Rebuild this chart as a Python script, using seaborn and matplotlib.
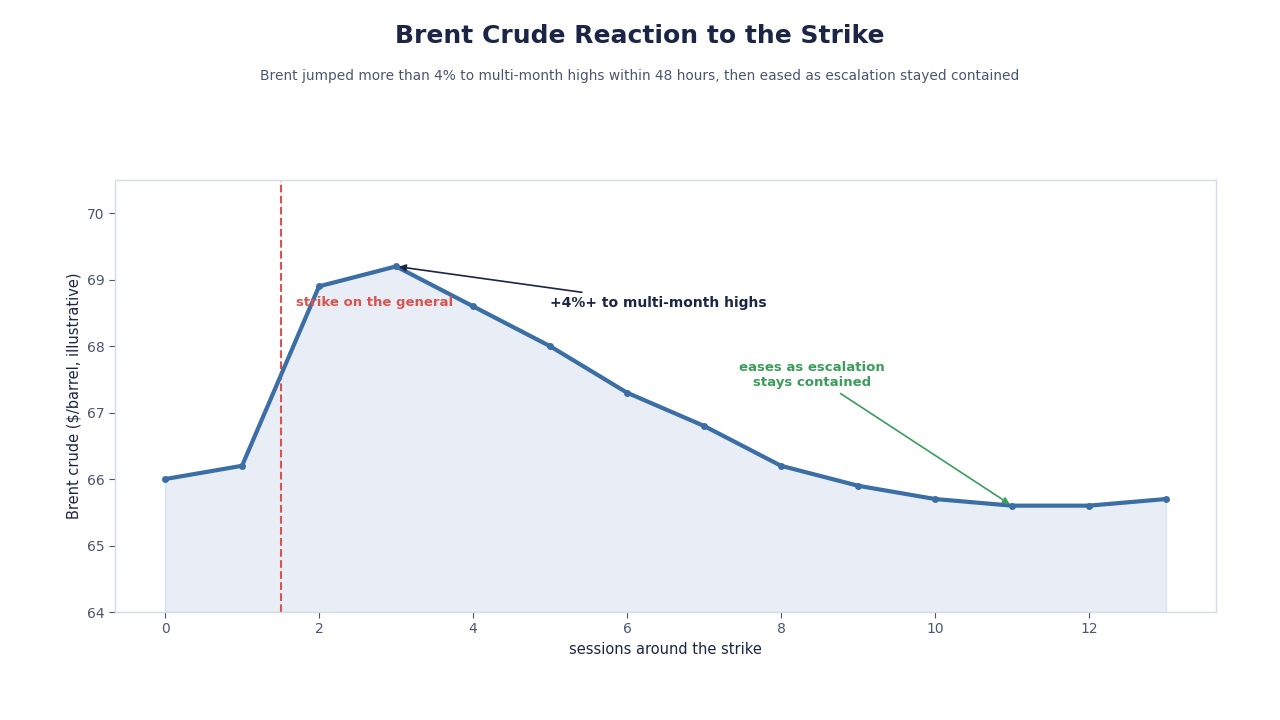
import numpy as np
import pandas as pd
import matplotlib
matplotlib.use("Agg")
import matplotlib.pyplot as plt
import seaborn as sns

# data
sessions = list(range(14))
brent = [66.0, 66.2, 68.9, 69.2, 68.6, 68.0, 67.3, 66.8, 66.2, 65.9, 65.7, 65.6, 65.6, 65.7]
strike_x = 1.5
peak_idx = 3
trough_idx = 11

df = pd.DataFrame({"session": sessions, "brent": brent})

sns.set_theme(style="white")
plt.rcParams["font.family"] = ["DejaVu Sans"]

navy = "#1b2545"
line_c = "#3a6ea5"
red = "#d9534f"
green = "#3a9e5a"
tick_c = "#4a5570"
spine_c = "#d5dbe8"

fig = plt.figure(figsize=(12.8, 7.2), dpi=100)
ax = fig.add_axes([115 / 1280, 1 - 612 / 720, (1216 - 115) / 1280, (612 - 180) / 720])

ax.fill_between(df["session"], df["brent"], 64, color="#e9eef6", edgecolor="#dae2ef", linewidth=1, zorder=1)
sns.lineplot(data=df, x="session", y="brent", ax=ax, color=line_c, linewidth=3,
             marker="o", markersize=5, markeredgewidth=0, zorder=3)
ax.axvline(strike_x, color=red, linestyle="--", linewidth=1.5, zorder=2)

ax.set_ylim(64, 70.5)
ax.set_xticks([0, 2, 4, 6, 8, 10, 12])
ax.set_yticks([64, 65, 66, 67, 68, 69, 70])

ax.text(1.7, 68.65, "strike on the general", color=red, fontsize=9.5, fontweight="bold",
        ha="left", va="center", zorder=4)
ax.annotate("+4%+ to multi-month highs", xy=(sessions[peak_idx], brent[peak_idx]),
            xytext=(5.0, 68.65), color=navy, fontsize=10, fontweight="bold",
            ha="left", va="center",
            arrowprops=dict(arrowstyle="-|>", color=navy, lw=1.2), zorder=4)
ax.annotate("eases as escalation\nstays contained", xy=(sessions[trough_idx], brent[trough_idx]),
            xytext=(8.4, 67.57), color=green, fontsize=9.5, fontweight="bold",
            ha="center", va="center",
            arrowprops=dict(arrowstyle="-|>", color=green, lw=1.2), zorder=4)

ax.set_xlabel("sessions around the strike", fontsize=10.5, color=navy)
ax.set_ylabel("Brent crude ($/barrel, illustrative)", fontsize=10.5, color=navy)
ax.tick_params(axis="both", colors=tick_c, labelsize=10, length=4, width=0.8, bottom=True, left=True)
for s in ax.spines.values():
    s.set_color(spine_c)
    s.set_linewidth(1)

fig.text(0.5, 1 - 36 / 720, "Brent Crude Reaction to the Strike", ha="center", va="center",
         fontsize=18, fontweight="bold", color=navy)
fig.text(0.5, 1 - 76 / 720, "Brent jumped more than 4% to multi-month highs within 48 hours, then eased as escalation stayed contained",
         ha="center", va="center", fontsize=9.9, color=tick_c)

fig.savefig("out.png", dpi=100)
